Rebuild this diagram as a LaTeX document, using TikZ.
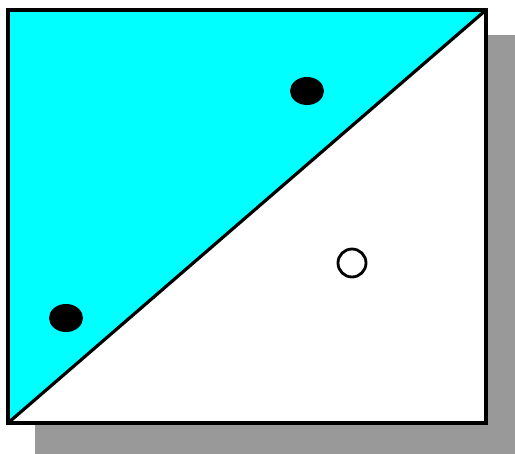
\documentclass[tikz,border=0pt]{standalone}
\usetikzlibrary{shapes.geometric}
\definecolor{aqua}{RGB}{0,255,255}
\definecolor{shadowgray}{RGB}{153,153,153}
\begin{document}
\begin{tikzpicture}[x=1pt,y=-1pt,
  edge/.style={line width=3.2pt,line join=miter},
  dot/.style={fill=black,draw=black,line width=2pt}]
\useasboundingbox (0,0) rectangle (515,454);
\fill[shadowgray] (35,35) rectangle (515,454);
\fill[white] (8,10) rectangle (486,423);
\fill[aqua] (8,423) -- (8,10) -- (486,10) -- cycle;
\coordinate (bl) at (8,423);
\coordinate (tr) at (486,10);
\draw[edge] (8,10) rectangle (486,423);
\draw[edge] (bl) -- (tr);
\node[dot,ellipse,minimum width=32pt,minimum height=26pt,inner sep=0pt] (d1) at (307,91) {};
\node[dot,ellipse,minimum width=32pt,minimum height=26pt,inner sep=0pt] (d2) at (66,318) {};
\node[circle,draw=black,fill=white,line width=2.8pt,minimum size=28pt,inner sep=0pt] (c1) at (352,263) {};
\end{tikzpicture}
\end{document}
